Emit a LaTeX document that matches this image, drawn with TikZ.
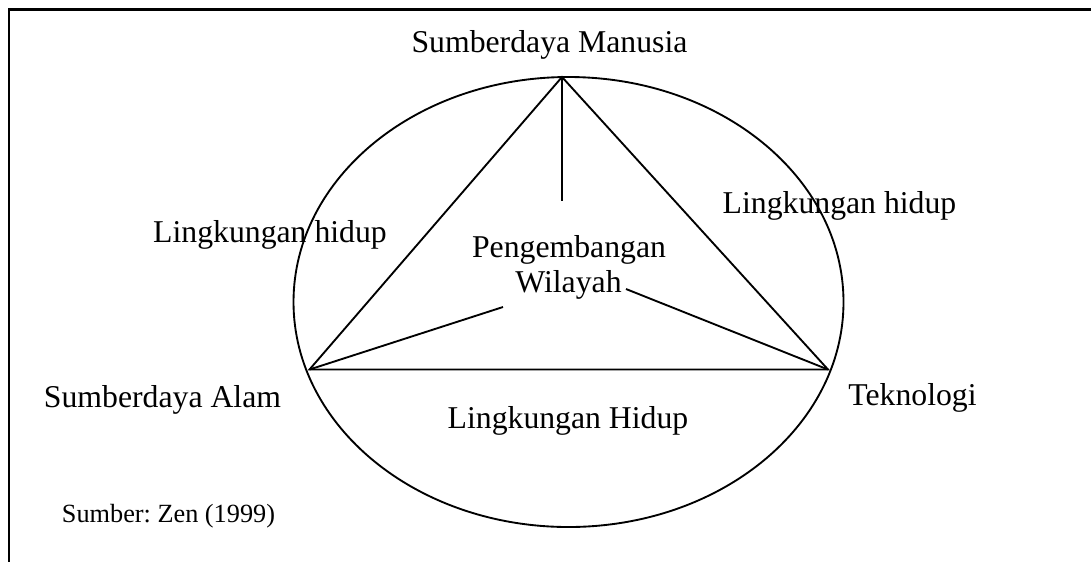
\documentclass[tikz,border=0pt]{standalone}
\usepackage{fontspec}
\setmainfont{Liberation Serif}
\frenchspacing
\begin{document}
\begin{tikzpicture}[x=0.75pt,y=-0.75pt,
  lbl/.style={inner sep=0pt, anchor=base, font=\fontsize{23.8}{26.3}\selectfont},
  note/.style={inner sep=0pt, anchor=base, font=\fontsize{19.7}{22}\selectfont},
  edge/.style={line width=1.4pt}]
\useasboundingbox (0,0) rectangle (1091,562);
% frame: top rule and left rule
\draw[line width=2.1pt] (8,9.2) -- (1091,9.2);
\draw[line width=1.6pt] (8.8,8.4) -- (8.8,562);

% the enclosing ellipse
\draw[edge] (568.5,302) ellipse [x radius=275, y radius=225];

% triangle corners
\coordinate (sm) at (562,77);
\coordinate (sa) at (309.5,369.5);
\coordinate (tk) at (828,369.5);
\draw[edge] (sm) -- (sa) -- (tk) -- cycle;

% spokes towards the centre
\coordinate (hub) at (562,201);
\coordinate (wl) at (503,307);
\coordinate (wr) at (626,289);
\draw[edge] (sm) -- (hub);
\draw[edge] (wl) -- (sa);
\draw[edge] (wr) -- (tk);

% labels
\node[lbl] (tsm) at (549.5,52) {Sumberdaya Manusia};
\node[lbl] (tsa) at (162.5,407) {Sumberdaya Alam};
\node[lbl] (ttk) at (912.5,405) {Teknologi};
\node[lbl] (lh1) at (270,242) {Lingkungan hidup};
\node[lbl] (lh2) at (839.5,213) {Lingkungan hidup};
\node[lbl] (lh3) at (568,428) {Lingkungan Hidup};
\node[lbl] (pg) at (569,257) {Pengembangan};
\node[lbl] (wy) at (568.5,292) {Wilayah};
\node[note] (src) at (168.5,522) {Sumber: Zen (1999)};
\end{tikzpicture}
\end{document}
